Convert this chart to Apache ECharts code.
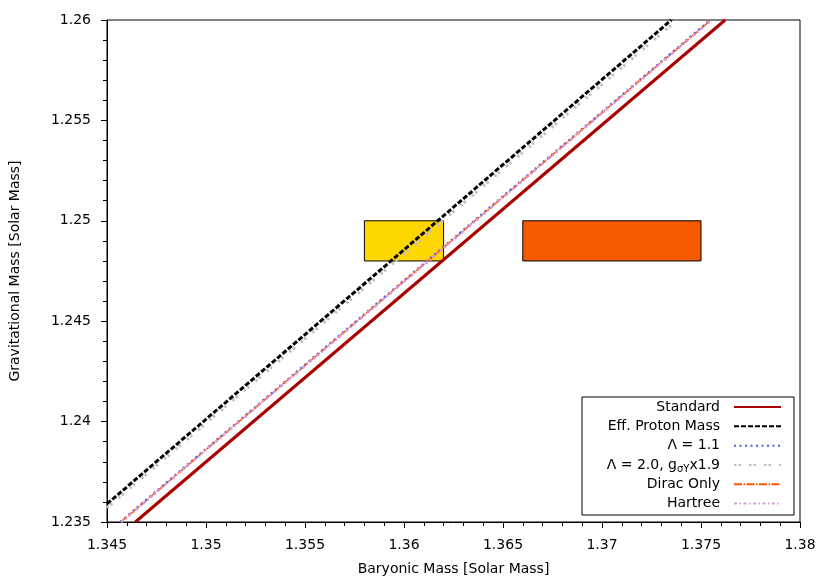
<!DOCTYPE html>
<html>
<head>
<meta charset="utf-8">
<script src="https://cdn.jsdelivr.net/npm/echarts@6/dist/echarts.min.js"></script>
<style>
  html, body { margin: 0; padding: 0; background: #fff; }
  #main { width: 830px; height: 581px; }
</style>
</head>
<body>
<div id="main"></div>
<script>
// 读取的曲线数据 (x: baryonic mass, y: gravitational mass)
const curveY = [1.235, 1.2475, 1.26];
const standardX = [1.34643, 1.36133, 1.37622];
const effProtonX = [1.345, 1.35875, 1.3735];
const effProtonY = [1.2359, 1.2475, 1.26];
const lambda20X = [1.345, 1.3590, 1.3738];
const lambda20Y = [1.2357, 1.2475, 1.26];
const lambda11X = [1.34567, 1.36057, 1.37547];
const diracX = [1.3457, 1.3606, 1.3755];
const hartreeX = [1.34572, 1.36064, 1.37553];

// 观测约束的矩形 [xMin, xMax, yMin, yMax]
const boxYellow = [1.358, 1.362, 1.248, 1.25];
const boxOrange = [1.366, 1.375, 1.248, 1.25];

const xTicks = ['1.345', '1.35', '1.355', '1.36', '1.365', '1.37', '1.375', '1.38'];
const yTicks = ['1.235', '1.24', '1.245', '1.25', '1.255', '1.26'];

const names = ['Standard', 'Eff. Proton Mass', 'Λ = 1.1', 'Λ = 2.0, gσYx1.9', 'Dirac Only', 'Hartree'];

function pairs(xs, ys) {
  return xs.map(function (x, i) { return [x, ys[i]]; });
}

const font = 'DejaVu Sans, sans-serif';
const dom = document.getElementById('main');
const myEchart = echarts.init(dom);

const lineDefs = [
  { data: pairs(standardX, curveY), color: '#aa0000', width: 3, type: 'solid' },
  { data: pairs(effProtonX, effProtonY), color: '#000000', width: 3, type: [5, 2] },
  { data: pairs(lambda11X, curveY), color: '#4466dd', width: 2.5, type: [2, 3.5] },
  { data: pairs(lambda20X, lambda20Y), color: '#c0c0c0', width: 3, type: [2.5, 2, 2.5, 8] },
  { data: pairs(diracX, curveY), color: '#ff5500', width: 1.5, type: [8, 1.5, 1.5, 1.5] },
  { data: pairs(hartreeX, curveY), color: '#dd99dd', width: 2.5, type: [3, 2.5, 1.5, 2.5] }
];

const series = [{
  type: 'custom',
  name: 'boxes',
  z: 1,
  silent: true,
  data: [boxYellow.concat([0]), boxOrange.concat([1])],
  renderItem: function (params, api) {
    const p0 = api.coord([api.value(0), api.value(3)]);
    const p1 = api.coord([api.value(1), api.value(2)]);
    return {
      type: 'rect',
      shape: { x: p0[0], y: p0[1], width: p1[0] - p0[0], height: p1[1] - p0[1] },
      style: { fill: api.value(4) === 0 ? '#ffd700' : '#f55a00', stroke: '#000', lineWidth: 1 }
    };
  }
}];

lineDefs.forEach(function (d, i) {
  series.push({
    type: 'line',
    name: names[i],
    data: d.data,
    showSymbol: false,
    symbol: 'none',
    z: 2 + i,
    clip: true,
    lineStyle: { color: d.color, width: d.width, type: d.type },
    itemStyle: { color: d.color }
  });
});

const rowCenters = [408, 427.3, 446.7, 466, 485.3, 504.5];
const legends = names.map(function (n, i) {
  return {
    data: [n],
    orient: 'vertical',
    right: 48,
    top: rowCenters[i] - 8,
    padding: 0,
    align: 'right',
    itemWidth: 47,
    itemHeight: 14,
    selectedMode: false,
    itemStyle: { opacity: 0, borderWidth: 0 },
    textStyle: {
      fontFamily: font,
      fontSize: 14,
      color: '#000',
      padding: [0, 9, 0, 0],
      rich: {
        sub: { fontFamily: font, fontSize: 10, color: '#000', padding: [8, 0, 0, 0] },
        n: { fontFamily: font, fontSize: 14, color: '#000' }
      }
    },
    formatter: function (name) {
      if (name.indexOf('gσY') >= 0) {
        return '{n|Λ = 2.0, g}{sub|σY}{n|x1.9}';
      }
      return name;
    }
  };
});

const option = {
  animation: false,
  backgroundColor: '#fff',
  grid: {
    left: 105, right: 30, top: 20, bottom: 59,
    show: true, borderColor: '#000', borderWidth: 1, backgroundColor: 'transparent'
  },
  xAxis: {
    type: 'value',
    min: 1.345,
    max: 1.38,
    interval: 0.005,
    name: 'Baryonic Mass [Solar Mass]',
    nameLocation: 'middle',
    nameGap: 40,
    nameTextStyle: { fontFamily: font, fontSize: 14, color: '#000' },
    axisLine: { show: true, onZero: false, lineStyle: { color: '#000', width: 1 } },
    axisTick: { show: true, inside: false, length: 6, lineStyle: { color: '#000' } },
    minorTick: { show: true, splitNumber: 5, length: 4, lineStyle: { color: '#000' } },
    splitLine: { show: false },
    axisLabel: {
      fontFamily: font, fontSize: 14, color: '#000', margin: 16,
      formatter: function (v, idx) { return xTicks[idx] !== undefined ? xTicks[idx] : String(v); }
    }
  },
  yAxis: {
    type: 'value',
    min: 1.235,
    max: 1.26,
    interval: 0.005,
    name: 'Gravitational Mass [Solar Mass]',
    nameLocation: 'middle',
    nameGap: 85,
    nameTextStyle: { fontFamily: font, fontSize: 14, color: '#000' },
    axisLine: { show: true, onZero: false, lineStyle: { color: '#000', width: 1 } },
    axisTick: { show: true, inside: false, length: 6, lineStyle: { color: '#000' } },
    minorTick: { show: true, splitNumber: 5, length: 4, lineStyle: { color: '#000' } },
    splitLine: { show: false },
    axisLabel: {
      fontFamily: font, fontSize: 14, color: '#000', margin: 16,
      formatter: function (v, idx) { return yTicks[idx] !== undefined ? yTicks[idx] : String(v); }
    }
  },
  legend: legends,
  graphic: [{
    type: 'rect',
    z: 3,
    shape: { x: 582, y: 397, width: 212, height: 118 },
    style: { fill: '#fff', stroke: '#000', lineWidth: 1 }
  }],
  series: series
};

myEchart.setOption(option, true);
</script>
</body>
</html>
